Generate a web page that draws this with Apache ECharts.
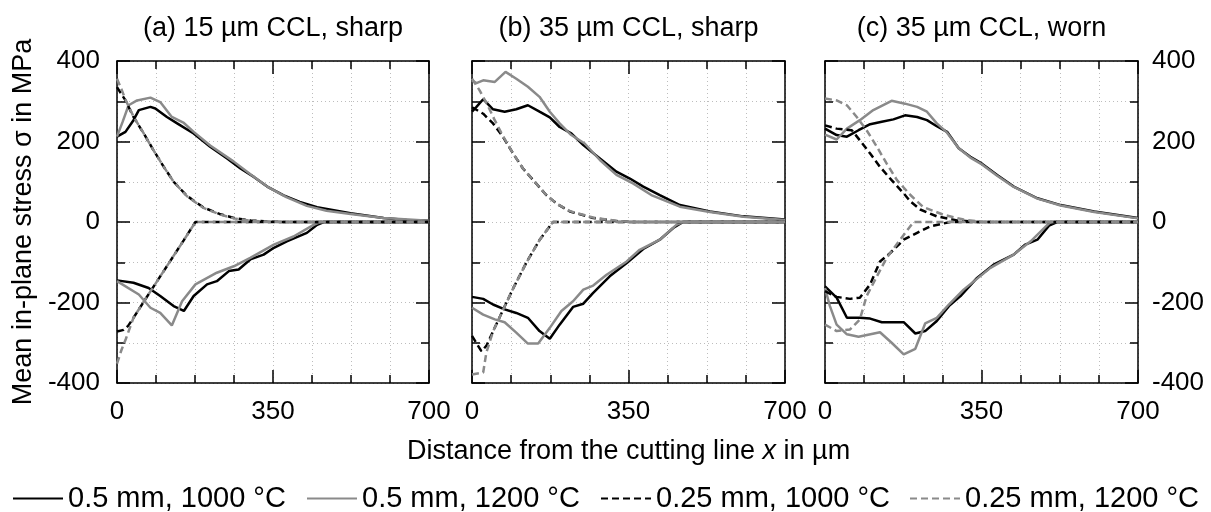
<!DOCTYPE html>
<html>
<head>
<meta charset="utf-8">
<script src="https://cdn.jsdelivr.net/npm/echarts@6/dist/echarts.min.js"></script>
<style>
html, body { margin: 0; padding: 0; background: #fff; }
#chart { width: 1211px; height: 512px; }
</style>
</head>
<body>
<div id="chart"></div>
<script>
// panel titles, legend entries, axis names
var titles = ['(a) 15 µm CCL, sharp', '(b) 35 µm CCL, sharp', '(c) 35 µm CCL, worn'];
var seriesNames = ['0.5 mm, 1000 °C', '0.5 mm, 1200 °C', '0.25 mm, 1000 °C', '0.25 mm, 1200 °C'];
var xName = 'Distance from the cutting line {i|x} in µm';
var yName = 'Mean in-plane stress σ in MPa';

// [x in µm, stress in MPa]
// (a) 15 µm CCL, sharp
var a_s1000_up = [[0,212],[19,224],[37,253],[49,278],[75,286],[86,282],[112,261],[135,245],[172,220],[209,187],[247,158],[277,133],[307,112],[337,88],[374,66],[410,50],[449,37],[524,22],[598,10],[650,5],[700,3]];
var a_s1200_up = [[0,212],[13,250],[26,290],[45,302],[75,309],[97,298],[123,261],[150,246],[172,224],[209,190],[262,150],[300,118],[337,88],[380,62],[426,40],[470,28],[524,20],[598,10],[700,3]];
var a_d1000_up = [[0,335],[19,302],[37,261],[60,220],[82,178],[105,137],[127,100],[157,65],[194,36],[230,20],[262,10],[300,4],[340,1],[380,0],[700,0]];
var a_d1200_up = [[0,356],[10,330],[19,304],[37,262],[60,220],[82,178],[105,137],[127,100],[157,64],[194,35],[230,19],[262,9],[300,3],[340,1],[380,0],[700,0]];
var a_s1000_lo = [[0,-145],[37,-151],[71,-164],[97,-184],[127,-209],[150,-221],[172,-184],[202,-155],[224,-147],[251,-122],[273,-118],[299,-93],[329,-81],[352,-64],[381,-48],[426,-27],[449,-7],[464,0],[700,0]];
var a_s1200_lo = [[0,-147],[49,-180],[75,-213],[97,-226],[123,-257],[146,-197],[176,-155],[224,-126],[262,-110],[299,-89],[352,-56],[396,-36],[441,-7],[456,0],[700,0]];
var a_d1000_lo = [[0,-272],[15,-268],[25,-258],[37,-238],[60,-198],[90,-147],[120,-96],[150,-45],[176,0],[700,0]];
var a_d1200_lo = [[0,-352],[10,-318],[20,-290],[37,-238],[60,-198],[90,-147],[120,-96],[150,-45],[176,0],[700,0]];

// (b) 35 µm CCL, sharp
var b_s1000_up = [[0,274],[10,286],[25,305],[47,280],[73,274],[99,280],[125,290],[151,274],[174,260],[196,236],[222,220],[249,191],[286,158],[323,125],[353,108],[383,88],[420,67],[465,42],[532,26],[607,14],[700,6]];
var b_s1200_up = [[0,352],[10,345],[25,352],[51,348],[75,373],[99,356],[125,336],[151,311],[174,274],[196,245],[222,216],[252,195],[286,154],[323,117],[360,96],[401,67],[465,38],[532,25],[607,13],[700,5]];
var b_d1000_up = [[0,285],[25,269],[47,245],[69,212],[92,170],[114,133],[137,104],[166,67],[190,45],[219,26],[271,10],[323,2],[360,0],[700,0]];
var b_d1200_up = [[0,356],[17,327],[35,290],[50,255],[69,214],[92,170],[114,133],[137,104],[166,67],[190,45],[219,27],[271,11],[323,3],[360,0],[700,0]];
var b_s1000_lo = [[0,-186],[25,-191],[47,-205],[73,-217],[99,-226],[125,-238],[151,-271],[174,-290],[196,-255],[226,-211],[249,-203],[271,-176],[308,-135],[346,-102],[383,-67],[420,-44],[450,-15],[472,0],[700,0]];
var b_s1200_lo = [[0,-213],[25,-230],[51,-242],[73,-249],[99,-275],[125,-302],[148,-302],[174,-263],[200,-221],[226,-197],[249,-168],[271,-158],[301,-131],[346,-98],[375,-69],[420,-44],[457,-7],[472,0],[700,0]];
var b_d1000_lo = [[0,-283],[21,-321],[32,-308],[62,-236],[92,-165],[122,-100],[151,-45],[181,0],[700,0]];
var b_d1200_lo = [[0,-379],[25,-374],[32,-325],[47,-272],[62,-236],[92,-165],[122,-100],[151,-45],[181,0],[700,0]];

// (c) 35 µm CCL, worn
var c_s1000_up = [[0,232],[26,216],[49,212],[75,228],[101,243],[127,249],[153,255],[179,265],[206,261],[228,253],[250,238],[273,224],[299,183],[325,162],[351,145],[385,117],[422,88],[475,59],[527,42],[602,26],[700,10]];
var c_s1200_up = [[0,217],[26,205],[49,232],[78,253],[108,278],[149,301],[179,294],[206,286],[228,274],[250,245],[273,222],[299,183],[325,160],[351,143],[385,115],[422,87],[475,58],[527,41],[602,25],[700,9]];
var c_d1000_up = [[0,240],[26,232],[60,228],[78,203],[101,170],[123,137],[149,104],[176,71],[191,51],[213,31],[250,14],[295,4],[340,0],[700,0]];
var c_d1200_up = [[0,307],[26,302],[49,290],[71,261],[93,228],[116,187],[138,145],[161,104],[191,67],[220,37],[265,18],[310,6],[355,0],[700,0]];
var c_s1000_lo = [[0,-160],[26,-188],[49,-238],[78,-238],[101,-240],[127,-249],[176,-249],[202,-277],[224,-271],[250,-246],[277,-209],[303,-184],[340,-139],[377,-106],[422,-81],[448,-56],[475,-44],[501,-9],[519,0],[700,0]];
var c_s1200_lo = [[0,-164],[11,-209],[26,-255],[49,-279],[75,-285],[123,-274],[149,-300],[176,-329],[202,-315],[224,-252],[250,-238],[277,-205],[310,-168],[370,-114],[422,-81],[460,-48],[490,-15],[504,0],[700,0]];
var c_d1000_lo = [[0,-172],[26,-186],[56,-191],[78,-188],[101,-155],[123,-98],[146,-77],[176,-44],[206,-27],[235,-11],[280,0],[700,0]];
var c_d1200_lo = [[0,-255],[26,-271],[56,-267],[78,-242],[93,-184],[116,-135],[138,-89],[168,-44],[198,0],[700,0]];

var panels = [
    [[a_s1000_up, a_s1000_lo], [a_s1200_up, a_s1200_lo], [a_d1000_up, a_d1000_lo], [a_d1200_up, a_d1200_lo]],
    [[b_s1000_up, b_s1000_lo], [b_s1200_up, b_s1200_lo], [b_d1000_up, b_d1000_lo], [b_d1200_up, b_d1200_lo]],
    [[c_s1000_up, c_s1000_lo], [c_s1200_up, c_s1200_lo], [c_d1000_up, c_d1000_lo], [c_d1200_up, c_d1200_lo]]
];

var FONT = '"Liberation Sans", Arial, Helvetica, sans-serif';
var GRAY = '#8a8a8a';
var lineStyles = [
    {color: '#000', type: 'solid'},
    {color: GRAY, type: 'solid'},
    {color: '#000', type: [7, 4]},
    {color: GRAY, type: [7, 4]}
];
var gridLeft = [117, 472, 825];
var gridWidth = [312, 313, 313];
var legendLeft = [12, 306, 600, 909];

var dom = document.getElementById('chart');
var myChart = echarts.init(dom);

var frame = {color: '#000', width: 1.5};
var dots = {color: '#bdbdbd', width: 1, type: [1, 3]};
var textBase = {fontSize: 26, color: '#000', fontFamily: FONT};
var nameText = {fontSize: 27, color: '#000', fontFamily: FONT};
var legendText = {fontSize: 29, color: '#000', fontFamily: FONT};

var grids = [], xAxes = [], yAxes = [], series = [];

for (var g = 0; g < 3; g++) {
    grids.push({left: gridLeft[g], top: 61, width: gridWidth[g], height: 322, outerBoundsMode: 'none'});
    // bottom and top x axes
    [false, true].forEach(function (top) {
        xAxes.push({
            type: 'value', gridIndex: g, position: top ? 'top' : 'bottom',
            min: 0, max: 700, interval: 350,
            axisLine: {onZero: false, lineStyle: frame},
            axisTick: {inside: true, length: 13, lineStyle: frame},
            minorTick: {show: true, splitNumber: 4, length: 8, lineStyle: frame},
            axisLabel: Object.assign({show: !top, margin: 16}, textBase),
            splitLine: {show: !top, lineStyle: dots},
            minorSplitLine: {show: !top, lineStyle: dots},
            name: top ? titles[g] : (g === 1 ? xName : ''),
            nameLocation: 'middle',
            nameGap: top ? 19 : 55,
            nameMoveOverlap: false,
            nameTextStyle: Object.assign({rich: {i: Object.assign({fontStyle: 'italic'}, nameText)}}, nameText)
        });
    });
    // left and right y axes
    [false, true].forEach(function (right) {
        var showLabel = (g === 0 && !right) || (g === 2 && right);
        yAxes.push({
            type: 'value', gridIndex: g, position: right ? 'right' : 'left',
            min: -400, max: 400, interval: 200,
            axisLine: {onZero: false, lineStyle: frame},
            axisTick: {inside: true, length: 13, lineStyle: frame},
            minorTick: {show: true, splitNumber: 2, length: 8, lineStyle: frame},
            axisLabel: Object.assign({show: showLabel, margin: right ? 14 : 17}, textBase),
            splitLine: {show: !right, lineStyle: dots},
            minorSplitLine: {show: !right, lineStyle: dots},
            name: (g === 0 && !right) ? yName : '',
            nameLocation: 'middle',
            nameGap: 80,
            nameRotate: 90,
            nameMoveOverlap: false,
            nameTextStyle: nameText
        });
    });
    for (var c = 0; c < 4; c++) {
        for (var part = 0; part < 2; part++) {
            series.push({
                type: 'line',
                name: seriesNames[c],
                xAxisIndex: g * 2,
                yAxisIndex: g * 2,
                data: panels[g][c][part],
                symbol: 'none',
                color: lineStyles[c].color,
                lineStyle: {color: lineStyles[c].color, width: 2.5, type: lineStyles[c].type},
                z: 2 + c,
                silent: true
            });
        }
    }
}

var option = {
    animation: false,
    backgroundColor: '#fff',
    grid: grids,
    xAxis: xAxes,
    yAxis: yAxes,
    legend: seriesNames.map(function (n, i) {
        return {
            data: [n], left: legendLeft[i], top: 484, padding: 0,
            itemWidth: 50, itemHeight: 14, selectedMode: false,
            itemStyle: {color: 'rgba(0,0,0,0)', borderWidth: 0, opacity: 0},
            textStyle: legendText
        };
    }),
    series: series
};

if (option && typeof option === 'object') {
    myChart.setOption(option);
}
</script>
</body>
</html>
